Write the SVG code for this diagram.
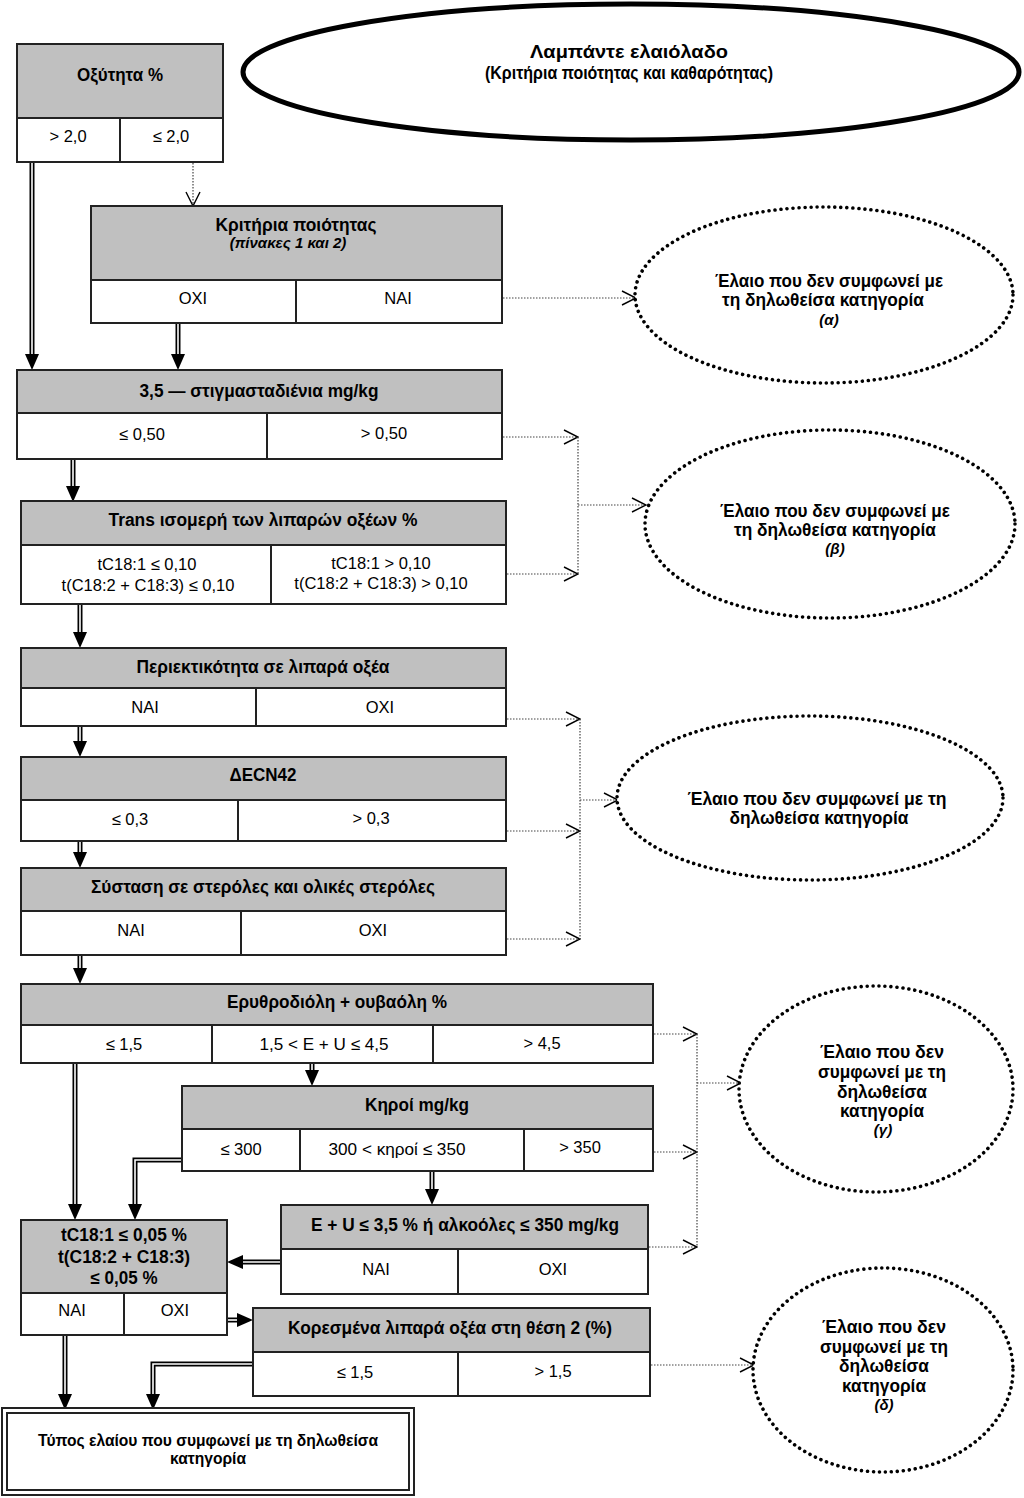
<svg xmlns="http://www.w3.org/2000/svg" width="1024" height="1498" viewBox="0 0 1024 1498">
<style>
.hdr{fill:#c0c0c0;stroke:#222;stroke-width:2}
.cell{fill:#fff;stroke:#222;stroke-width:2}
.div{stroke:#222;stroke-width:2}
.tb{font-family:"Liberation Sans",Arial,sans-serif;font-weight:bold;font-size:18px;text-anchor:middle;fill:#000}
.tn{font-family:"Liberation Sans",Arial,sans-serif;font-weight:bold;font-size:17.5px;text-anchor:middle;fill:#000}
.tc{font-family:"Liberation Sans",Arial,sans-serif;font-size:16.5px;text-anchor:middle;fill:#000}
.ti{font-family:"Liberation Sans",Arial,sans-serif;font-weight:bold;font-style:italic;font-size:15px;text-anchor:middle;fill:#000}
.dbl{fill:none;stroke:#000;stroke-width:5;marker-end:url(#fa)}
.dbl-in{fill:none;stroke:#fff;stroke-width:1.6}
.dot{fill:none;stroke:#444;stroke-width:1.2;stroke-dasharray:1.5 1.5}
.dota{fill:none;stroke:#444;stroke-width:1.2;stroke-dasharray:1.5 1.5;marker-end:url(#va)}
.dell{fill:#fff;stroke:#000;stroke-width:3.6;stroke-linecap:round;stroke-dasharray:0.01 6}
</style>
<defs>
<marker id="fa" viewBox="0 0 16 14" refX="0" refY="7" markerWidth="16" markerHeight="14" markerUnits="userSpaceOnUse" orient="auto">
<path d="M0,0 L16,7 L0,14 z" fill="#000"/>
</marker>
<marker id="va" viewBox="0 0 16 16" refX="15" refY="8" markerWidth="16" markerHeight="16" markerUnits="userSpaceOnUse" orient="auto">
<path d="M1,1 L15,8 L1,15" fill="none" stroke="#000" stroke-width="1.4"/>
</marker>
</defs>
<rect width="1024" height="1498" fill="#fff"/>

<g id="connectors">
<path class="dbl" d="M32,162 V354"/><path class="dbl-in" d="M32,163 V354"/>
<path class="dbl" d="M178,323 V354"/><path class="dbl-in" d="M178,324 V354"/>
<path class="dbl" d="M73,459 V486"/><path class="dbl-in" d="M73,460 V486"/>
<path class="dbl" d="M80,604 V632"/><path class="dbl-in" d="M80,605 V632"/>
<path class="dbl" d="M80,726 V741"/><path class="dbl-in" d="M80,727 V741"/>
<path class="dbl" d="M80,841 V852"/><path class="dbl-in" d="M80,842 V852"/>
<path class="dbl" d="M80,955 V968"/><path class="dbl-in" d="M80,956 V968"/>
<path class="dbl" d="M312,1063 V1070"/><path class="dbl-in" d="M312,1064 V1070"/>
<path class="dbl" d="M75,1063 V1204"/><path class="dbl-in" d="M75,1064 V1204"/>
<path class="dbl" d="M181,1160 H135 V1204"/><path class="dbl-in" d="M181,1160 H135 V1204"/>
<path class="dbl" d="M432,1171 V1189"/><path class="dbl-in" d="M432,1172 V1189"/>
<path class="dbl" d="M280,1262 H243"/><path class="dbl-in" d="M280,1262 H243"/>
<path class="dbl" d="M227,1320 H237"/><path class="dbl-in" d="M228,1320 H237"/>
<path class="dbl" d="M252,1364 H153 V1394"/><path class="dbl-in" d="M252,1364 H153 V1394"/>
<path class="dbl" d="M65,1335 V1394"/><path class="dbl-in" d="M65,1336 V1394"/>
<path class="dota" d="M193,163 V206"/>
<path class="dota" d="M503,298 H636"/>
<path class="dota" d="M503,437 H578"/>
<path class="dota" d="M507,574 H578"/>
<path class="dot" d="M578,437 V574"/>
<path class="dota" d="M578,505 H646"/>
<path class="dota" d="M507,719 H580"/>
<path class="dota" d="M507,831 H580"/>
<path class="dota" d="M507,939 H580"/>
<path class="dot" d="M580,719 V939"/>
<path class="dota" d="M580,800 H618"/>
<path class="dota" d="M654,1034 H697"/>
<path class="dota" d="M654,1152 H697"/>
<path class="dota" d="M649,1247 H697"/>
<path class="dot" d="M697,1034 V1247"/>
<path class="dota" d="M697,1083 H741"/>
<path class="dota" d="M651,1365 H754"/>
</g>

<g id="n-title">
<ellipse cx="631" cy="72" rx="388" ry="68" fill="#fff" stroke="#000" stroke-width="5"/>
<text class="tn" x="629" y="58" textLength="198" lengthAdjust="spacingAndGlyphs">Λαμπάντε ελαιόλαδο</text>
<text class="tn" x="629" y="79" textLength="288" lengthAdjust="spacingAndGlyphs">(Κριτήρια ποιότητας και καθαρότητας)</text>
</g>

<g id="n-acidity">
<rect class="hdr" x="17" y="44" width="206" height="74"/>
<rect class="cell" x="17" y="118" width="206" height="44"/>
<line class="div" x1="120" y1="118" x2="120" y2="162"/>
<text class="tb" x="120" y="81" textLength="86" lengthAdjust="spacingAndGlyphs">Οξύτητα %</text>
<text class="tc" x="68" y="142">&gt; 2,0</text>
<text class="tc" x="171" y="142">≤ 2,0</text>
</g>

<g id="n-quality">
<rect class="hdr" x="91" y="206" width="411" height="74"/>
<rect class="cell" x="91" y="280" width="411" height="43"/>
<line class="div" x1="296" y1="280" x2="296" y2="323"/>
<text class="tb" x="296" y="231" textLength="161" lengthAdjust="spacingAndGlyphs">Κριτήρια ποιότητας</text>
<text class="ti" x="288" y="248">(πίνακες 1 και 2)</text>
<text class="tc" x="193" y="304">OXI</text>
<text class="tc" x="398" y="304">NAI</text>
</g>

<g id="n-stigma">
<rect class="hdr" x="17" y="370" width="485" height="43"/>
<rect class="cell" x="17" y="413" width="485" height="46"/>
<line class="div" x1="267" y1="413" x2="267" y2="459"/>
<text class="tn" x="259" y="397" textLength="239" lengthAdjust="spacingAndGlyphs">3,5 — στιγμασταδιένια mg/kg</text>
<text class="tc" x="142" y="440">≤ 0,50</text>
<text class="tc" x="384" y="439">&gt; 0,50</text>
</g>

<g id="n-trans">
<rect class="hdr" x="21" y="501" width="485" height="44"/>
<rect class="cell" x="21" y="545" width="485" height="59"/>
<line class="div" x1="271" y1="545" x2="271" y2="604"/>
<text class="tn" x="263" y="526" textLength="309" lengthAdjust="spacingAndGlyphs">Trans ισομερή των λιπαρών οξέων %</text>
<text class="tc" x="147" y="570">tC18:1 ≤ 0,10</text>
<text class="tc" x="148" y="591">t(C18:2 + C18:3) ≤ 0,10</text>
<text class="tc" x="381" y="569">tC18:1 &gt; 0,10</text>
<text class="tc" x="381" y="589">t(C18:2 + C18:3) &gt; 0,10</text>
</g>

<g id="n-fattyacids">
<rect class="hdr" x="21" y="648" width="485" height="40"/>
<rect class="cell" x="21" y="688" width="485" height="38"/>
<line class="div" x1="256" y1="688" x2="256" y2="726"/>
<text class="tn" x="263" y="673" textLength="253" lengthAdjust="spacingAndGlyphs">Περιεκτικότητα σε λιπαρά οξέα</text>
<text class="tc" x="145" y="713">NAI</text>
<text class="tc" x="380" y="713">OXI</text>
</g>

<g id="n-ecn42">
<rect class="hdr" x="21" y="757" width="485" height="43"/>
<rect class="cell" x="21" y="800" width="485" height="41"/>
<line class="div" x1="238" y1="800" x2="238" y2="841"/>
<text class="tn" x="263" y="781" textLength="67" lengthAdjust="spacingAndGlyphs">ΔECN42</text>
<text class="tc" x="130" y="825">≤ 0,3</text>
<text class="tc" x="371" y="824">&gt; 0,3</text>
</g>

<g id="n-sterols">
<rect class="hdr" x="21" y="868" width="485" height="43"/>
<rect class="cell" x="21" y="911" width="485" height="44"/>
<line class="div" x1="241" y1="911" x2="241" y2="955"/>
<text class="tn" x="263" y="893" textLength="344" lengthAdjust="spacingAndGlyphs">Σύσταση σε στερόλες και ολικές στερόλες</text>
<text class="tc" x="131" y="936">NAI</text>
<text class="tc" x="373" y="936">OXI</text>
</g>

<g id="n-erythrodiol">
<rect class="hdr" x="21" y="984" width="632" height="41"/>
<rect class="cell" x="21" y="1025" width="632" height="38"/>
<line class="div" x1="212" y1="1025" x2="212" y2="1063"/>
<line class="div" x1="433" y1="1025" x2="433" y2="1063"/>
<text class="tn" x="337" y="1008" textLength="220" lengthAdjust="spacingAndGlyphs">Ερυθροδιόλη + ουβαόλη %</text>
<text class="tc" x="124" y="1050">≤ 1,5</text>
<text class="tc" x="324" y="1050" textLength="129" lengthAdjust="spacingAndGlyphs">1,5 &lt; E + U ≤ 4,5</text>
<text class="tc" x="542" y="1049">&gt; 4,5</text>
</g>

<g id="n-waxes">
<rect class="hdr" x="182" y="1086" width="471" height="43"/>
<rect class="cell" x="182" y="1129" width="471" height="42"/>
<line class="div" x1="300" y1="1129" x2="300" y2="1171"/>
<line class="div" x1="524" y1="1129" x2="524" y2="1171"/>
<text class="tn" x="417" y="1111" textLength="104" lengthAdjust="spacingAndGlyphs">Κηροί mg/kg</text>
<text class="tc" x="241" y="1155">≤ 300</text>
<text class="tc" x="397" y="1155" textLength="137" lengthAdjust="spacingAndGlyphs">300 &lt; κηροί ≤ 350</text>
<text class="tc" x="580" y="1153">&gt; 350</text>
</g>

<g id="n-eu-alcohols">
<rect class="hdr" x="281" y="1205" width="367" height="44"/>
<rect class="cell" x="281" y="1249" width="367" height="45"/>
<line class="div" x1="458" y1="1249" x2="458" y2="1294"/>
<text class="tn" x="465" y="1231" textLength="308" lengthAdjust="spacingAndGlyphs">E + U ≤ 3,5 % ή αλκοόλες ≤ 350 mg/kg</text>
<text class="tc" x="376" y="1275">NAI</text>
<text class="tc" x="553" y="1275">OXI</text>
</g>

<g id="n-trans005">
<rect class="hdr" x="21" y="1220" width="206" height="73"/>
<rect class="cell" x="21" y="1293" width="206" height="42"/>
<line class="div" x1="124" y1="1293" x2="124" y2="1335"/>
<text class="tn" x="124" y="1241" textLength="126" lengthAdjust="spacingAndGlyphs">tC18:1 ≤ 0,05 %</text>
<text class="tn" x="124" y="1263" textLength="132" lengthAdjust="spacingAndGlyphs">t(C18:2 + C18:3)</text>
<text class="tn" x="124" y="1284" textLength="67" lengthAdjust="spacingAndGlyphs">≤ 0,05 %</text>
<text class="tc" x="72" y="1316">NAI</text>
<text class="tc" x="175" y="1316">OXI</text>
</g>

<g id="n-saturated">
<rect class="hdr" x="253" y="1308" width="397" height="44"/>
<rect class="cell" x="253" y="1352" width="397" height="44"/>
<line class="div" x1="458" y1="1352" x2="458" y2="1396"/>
<text class="tn" x="450" y="1334" textLength="324" lengthAdjust="spacingAndGlyphs">Κορεσμένα λιπαρά οξέα στη θέση 2 (%)</text>
<text class="tc" x="355" y="1378">≤ 1,5</text>
<text class="tc" x="553" y="1377">&gt; 1,5</text>
</g>

<g id="n-result">
<rect x="2" y="1408" width="412" height="87" fill="#fff" stroke="#222" stroke-width="2"/>
<rect x="7" y="1413" width="402" height="77" fill="none" stroke="#222" stroke-width="2"/>
<text class="tn" x="208" y="1446" style="font-size:16px" textLength="340" lengthAdjust="spacingAndGlyphs">Τύπος ελαίου που συμφωνεί με τη δηλωθείσα</text>
<text class="tn" x="208" y="1464" style="font-size:16px" textLength="76" lengthAdjust="spacingAndGlyphs">κατηγορία</text>
</g>

<g id="n-reject-a">
<ellipse class="dell" cx="824" cy="295" rx="189" ry="88"/>
<text class="tb" x="829" y="287" textLength="228" lengthAdjust="spacingAndGlyphs">Έλαιο που δεν συμφωνεί με</text>
<text class="tb" x="823" y="306" textLength="202" lengthAdjust="spacingAndGlyphs">τη δηλωθείσα κατηγορία</text>
<text class="ti" x="829" y="325">(α)</text>
</g>

<g id="n-reject-b">
<ellipse class="dell" cx="830" cy="524" rx="185" ry="94"/>
<text class="tb" x="835" y="517" textLength="230" lengthAdjust="spacingAndGlyphs">Έλαιο που δεν συμφωνεί με</text>
<text class="tb" x="835" y="536" textLength="202" lengthAdjust="spacingAndGlyphs">τη δηλωθείσα κατηγορία</text>
<text class="ti" x="835" y="554">(β)</text>
</g>

<g id="n-reject-c">
<ellipse class="dell" cx="810" cy="798" rx="193" ry="82"/>
<text class="tb" x="817" y="805" textLength="259" lengthAdjust="spacingAndGlyphs">Έλαιο που δεν συμφωνεί με τη</text>
<text class="tb" x="819" y="824" textLength="179" lengthAdjust="spacingAndGlyphs">δηλωθείσα κατηγορία</text>
</g>

<g id="n-reject-g">
<ellipse class="dell" cx="876" cy="1089" rx="137" ry="103"/>
<text class="tb" x="882" y="1058" textLength="124" lengthAdjust="spacingAndGlyphs">Έλαιο που δεν</text>
<text class="tb" x="882" y="1078" textLength="128" lengthAdjust="spacingAndGlyphs">συμφωνεί με τη</text>
<text class="tb" x="882" y="1098" textLength="90" lengthAdjust="spacingAndGlyphs">δηλωθείσα</text>
<text class="tb" x="882" y="1117" textLength="84" lengthAdjust="spacingAndGlyphs">κατηγορία</text>
<text class="ti" x="883" y="1135">(γ)</text>
</g>

<g id="n-reject-d">
<ellipse class="dell" cx="883" cy="1370" rx="130" ry="102"/>
<text class="tb" x="884" y="1333" textLength="124" lengthAdjust="spacingAndGlyphs">Έλαιο που δεν</text>
<text class="tb" x="884" y="1353" textLength="128" lengthAdjust="spacingAndGlyphs">συμφωνεί με τη</text>
<text class="tb" x="884" y="1372" textLength="90" lengthAdjust="spacingAndGlyphs">δηλωθείσα</text>
<text class="tb" x="884" y="1392" textLength="84" lengthAdjust="spacingAndGlyphs">κατηγορία</text>
<text class="ti" x="884" y="1410">(δ)</text>
</g>
</svg>
